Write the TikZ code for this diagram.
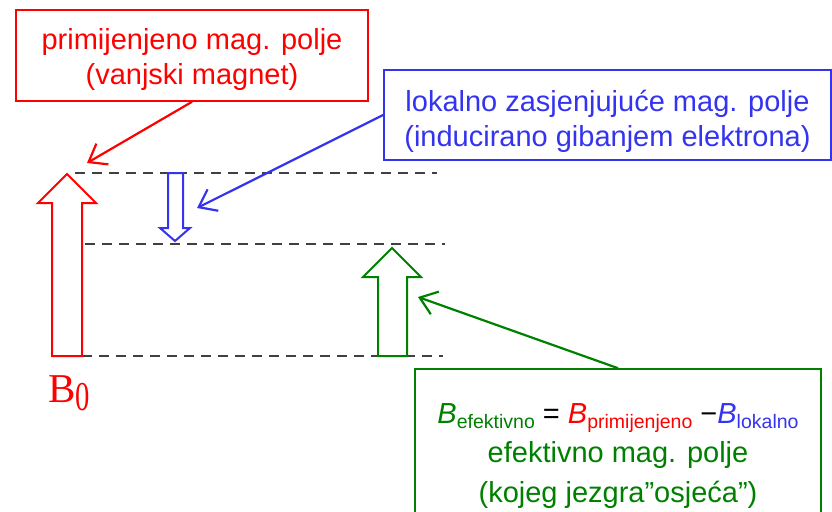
\documentclass[tikz,border=0pt]{standalone}
\usepackage{fontspec}
\setmainfont{Liberation Sans}
\newfontfamily\bnaughtfont{Liberation Serif}
\usetikzlibrary{arrows.meta}
\definecolor{FieldRed}{RGB}{255,0,0}
\definecolor{FieldBlue}{RGB}{51,51,240}
\definecolor{FieldGreen}{RGB}{0,128,0}
\definecolor{LevelGrey}{RGB}{64,64,64}
\tikzset{
  labelbox/.style={draw,line width=1.6pt,align=center,inner sep=0pt,
    font=\fontsize{29}{35}\selectfont},
  pointer/.style={line width=2.2pt,-{Straight Barb[length=16pt,width=24pt,line width=2.2pt]}},
  level/.style={dash pattern=on 10pt off 7pt,line width=2.6pt,draw=LevelGrey},
  fieldarrow/.style={line width=2pt,line join=miter}
}
\newcommand{\fieldsub}[1]{\raisebox{-5pt}{\fontsize{19.5}{20}\selectfont #1}}

\begin{document}
\begin{tikzpicture}[x=1pt,y=-1pt]
  \useasboundingbox (0,0) rectangle (832,511);

  % energy levels
  \draw[level] (75,173) -- (437,173);
  \draw[level] (85,244) -- (445,244);
  \draw[level] (82,356) -- (443,356);

  % hollow field arrows
  \draw[fieldarrow,FieldRed] (52,356) -- (52,203) -- (38,203) -- (67,174)
    -- (96,203) -- (82,203) -- (82,356) -- cycle;
  \draw[fieldarrow,FieldBlue] (168,173) -- (168,228) -- (160,228) -- (175,241)
    -- (190,228) -- (183,228) -- (183,173) -- cycle;
  \draw[fieldarrow,FieldGreen] (378,356) -- (378,277) -- (363,277) -- (392,248)
    -- (421,277) -- (407,277) -- (407,356) -- cycle;
  \node[text=FieldRed,anchor=base west,inner sep=0pt,
    font=\bnaughtfont\fontsize{41}{41}\selectfont] (bnaught) at (48,402)
    {B\raisebox{-8pt}{\scalebox{0.7}[1]{0}}};

  % label boxes
  \node[labelbox,draw=FieldRed,text=FieldRed,minimum width=352pt,minimum height=91pt]
    (redbox) at (192,55.5) {\rule{0pt}{30pt}primijenjeno mag. polje\\(vanjski magnet)};
  \node[labelbox,draw=FieldBlue,text=FieldBlue,minimum width=447pt,minimum height=90pt]
    (bluebox) at (607.5,115) {\rule{0pt}{34pt}lokalno zasjenjujuće mag. polje\\(inducirano gibanjem elektrona)};
  \node[labelbox,draw=FieldGreen,text=FieldGreen,minimum width=406pt,minimum height=167pt,
    font=\fontsize{29}{39.5}\selectfont] (greenbox) at (618,452.5)
    {\rule{0pt}{27pt}\textit{B}\fieldsub{efektivno} {\color{black}=} {\color{FieldRed}\textit{B}\fieldsub{primijenjeno}}
     {\color{black}−}{\color{FieldBlue}\textit{B}\fieldsub{lokalno}}\\
     efektivno mag. polje\\(kojeg jezgra”osjeća”)};

  % pointers
  \coordinate (redtip) at (87,163);
  \coordinate (bluetip) at (197,208);
  \coordinate (greentip) at (418,297);
  \draw[pointer,FieldRed] (redbox.south) -- (redtip);
  \draw[pointer,FieldBlue] (bluebox.west) -- (bluetip);
  \draw[pointer,FieldGreen] (greenbox.north) -- (greentip);
\end{tikzpicture}
\end{document}
